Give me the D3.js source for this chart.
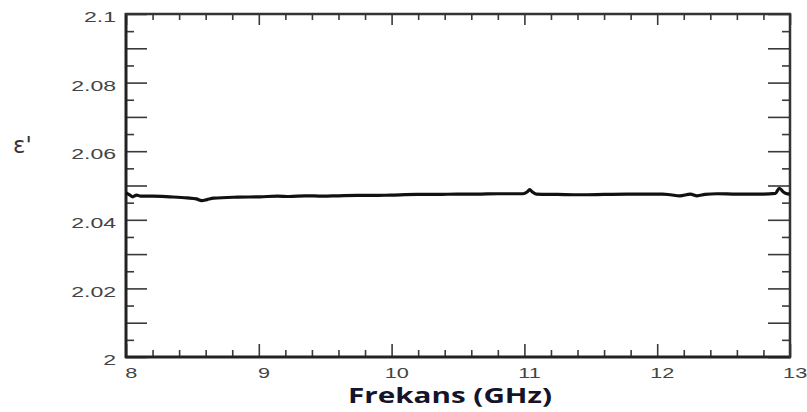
<!DOCTYPE html>
<meta charset="utf-8">
<html>
<head>
    <title>Frekans</title>
    <script src="https://d3js.org/d3.v7.min.js"></script>
    <style>
        body { margin: 0; background: #fff; }
        .tick text { font-family: "Liberation Sans", Arial, sans-serif; font-size: 14px; fill: #444; }
    </style>
</head>
<body>
    <div id="chart"></div>

    <script type="text/javascript">

        // values
        var freq = [8.00, 8.03, 8.05, 8.08, 8.11, 8.20, 8.33, 8.46, 8.53, 8.57, 8.61, 8.66, 8.84, 9.01, 9.14,
                    9.23, 9.35, 9.48, 9.60, 9.74, 9.86, 9.99, 10.19, 10.35, 10.49, 10.64, 10.80, 10.99, 11.02,
                    11.04, 11.06, 11.09, 11.25, 11.42, 11.60, 11.77, 12.04, 12.10, 12.17, 12.25, 12.30, 12.36,
                    12.45, 12.60, 12.80, 12.89, 12.92, 12.95, 12.97, 13.00];
        var eps  = [2.0478, 2.0472, 2.0467, 2.0472, 2.0469, 2.0469, 2.0467, 2.0464, 2.0461, 2.0456, 2.0459, 2.0463, 2.0466, 2.0467, 2.0469,
                    2.0468, 2.0470, 2.0469, 2.0470, 2.0471, 2.0471, 2.0472, 2.0474, 2.0474, 2.0475, 2.0475, 2.0476, 2.0476, 2.0481,
                    2.0488, 2.0481, 2.0475, 2.0474, 2.0473, 2.0474, 2.0475, 2.0475, 2.0473, 2.0470, 2.0475, 2.0470, 2.0474,
                    2.0476, 2.0475, 2.0475, 2.0477, 2.0492, 2.0481, 2.0477, 2.0475];
        var xTicks = [8, 9, 10, 11, 12, 13];
        var yTicks = [2, 2.02, 2.04, 2.06, 2.08, 2.1];
        var yLabels = ["2", "2.02", "2.04", "2.06", "2.08", "2.1"];
        var xTitle = "Frekans (GHz)";
        var yTitle = "ε'";

        var margin = { top: 14, right: 17, bottom: 55, left: 126 },
            width = 807 - margin.left - margin.right,
            height = 412 - margin.top - margin.bottom;

        var svg = d3.select("#chart").append("svg")
            .attr("width", 807)
            .attr("height", 412);

        var g = svg.append("g")
            .attr("transform", "translate(" + margin.left + "," + margin.top + ")");

        var x = d3.scaleLinear().domain([8, 13]).range([0, width]);
        var y = d3.scaleLinear().domain([2, 2.1]).range([height, 0]);

        // minor ticks
        var xMinor = d3.range(8, 13.001, 0.2).filter(function (d) { return Math.abs(d - Math.round(d)) > 0.01; });
        var yMinor = d3.range(2, 2.1001, 0.005).filter(function (d) { return Math.abs(d * 100 - Math.round(d * 100)) > 0.01; });
        var yMid = d3.range(2, 2.1001, 0.01).filter(function (d) { return Math.abs(d * 50 - Math.round(d * 50)) > 0.01; });

        function styleTicks(sel) {
            sel.select(".domain").remove();
            sel.selectAll(".tick line").attr("stroke", "#3a3a3a").attr("stroke-width", 1.6);
        }

        // bottom
        g.append("g").attr("transform", "translate(0," + height + ")")
            .call(d3.axisBottom(x).tickValues(xMinor).tickSize(-7).tickFormat(""))
            .call(styleTicks);
        g.append("g").attr("transform", "translate(0," + height + ")")
            .call(d3.axisBottom(x).tickValues(xTicks).tickSize(-13).tickPadding(11).tickFormat(d3.format("d")))
            .call(styleTicks)
            .selectAll(".tick text").attr("transform", "scale(1.55,1)").attr("x", 3);
        // top
        g.append("g")
            .call(d3.axisTop(x).tickValues(xMinor).tickSize(-6).tickFormat(""))
            .call(styleTicks);
        g.append("g")
            .call(d3.axisTop(x).tickValues(xTicks).tickSize(-11).tickFormat(""))
            .call(styleTicks);

        // left
        g.append("g")
            .call(d3.axisLeft(y).tickValues(yMinor).tickSize(-8).tickFormat(""))
            .call(styleTicks);
        g.append("g")
            .call(d3.axisLeft(y).tickValues(yMid).tickSize(-21).tickFormat(""))
            .call(styleTicks);
        g.append("g")
            .call(d3.axisLeft(y).tickValues(yTicks).tickSize(-21).tickPadding(6)
                .tickFormat(function (d, i) { return yLabels[i]; }))
            .call(styleTicks)
            .selectAll(".tick text").attr("transform", "scale(1.65,1)").attr("dy", "0.55em");
        // right
        g.append("g").attr("transform", "translate(" + width + ",0)")
            .call(d3.axisRight(y).tickValues(yMinor).tickSize(-8).tickFormat(""))
            .call(styleTicks);
        g.append("g").attr("transform", "translate(" + width + ",0)")
            .call(d3.axisRight(y).tickValues(yMid.concat(yTicks)).tickSize(-22).tickFormat(""))
            .call(styleTicks);

        // frame
        g.append("line").attr("x1", 0).attr("x2", 0).attr("y1", -1).attr("y2", height + 1)
            .attr("stroke", "#222").attr("stroke-width", 3);
        g.append("line").attr("x1", -1).attr("x2", width + 1).attr("y1", height).attr("y2", height)
            .attr("stroke", "#222").attr("stroke-width", 3);
        g.append("line").attr("x1", -1).attr("x2", width + 1).attr("y1", 0).attr("y2", 0)
            .attr("stroke", "#333").attr("stroke-width", 2.5);
        g.append("line").attr("x1", width).attr("x2", width).attr("y1", -1).attr("y2", height + 1)
            .attr("stroke", "#333").attr("stroke-width", 2.5);

        // data line
        var line = d3.line()
            .x(function (d, i) { return x(freq[i]); })
            .y(function (d) { return y(d); })
            .curve(d3.curveMonotoneX);

        g.append("path")
            .datum(eps)
            .attr("fill", "none")
            .attr("stroke", "#111")
            .attr("stroke-width", 3.2)
            .attr("stroke-linejoin", "round")
            .attr("d", line);

        // titles
        svg.append("text")
            .attr("x", 450)
            .attr("y", 403)
            .attr("text-anchor", "middle")
            .attr("textLength", 204)
            .attr("lengthAdjust", "spacingAndGlyphs")
            .style("font-family", "'Open Sans', sans-serif")
            .style("font-weight", "bold")
            .style("font-size", "21px")
            .style("fill", "#14142a")
            .text(xTitle);

        svg.append("text")
            .attr("x", 13)
            .attr("y", 153)
            .style("font-family", "'DejaVu Sans', sans-serif")
            .style("font-size", "23px")
            .style("fill", "#333")
            .text(yTitle);

    </script>

</body>
</html>
